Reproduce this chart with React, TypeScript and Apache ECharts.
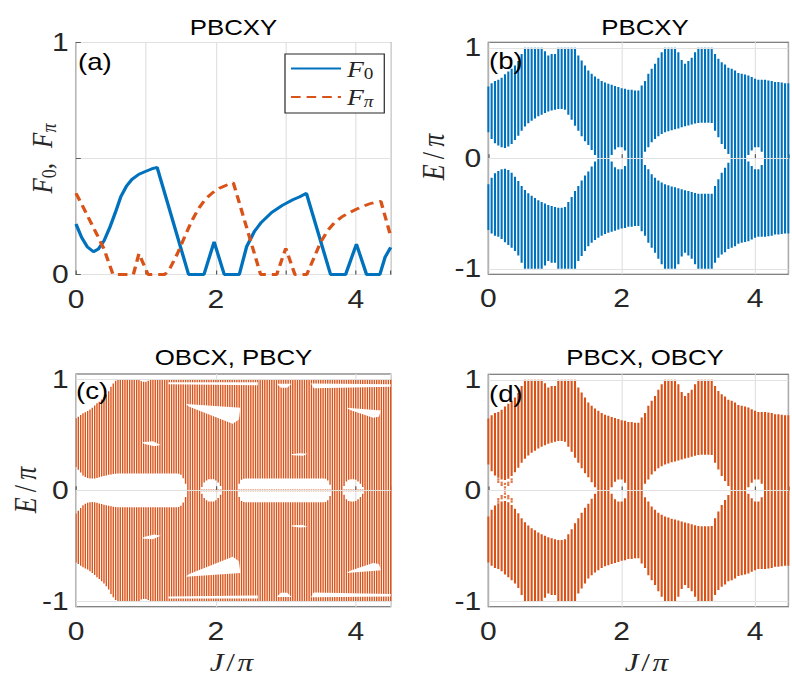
import React, { useEffect, useRef } from 'react';
import * as echarts from 'echarts';

// The reference figure is stretched horizontally; draw narrower and stretch back.
const SX = 1.2;
const W = 792 / SX;
const H = 675;

const BLUE = '#0072BD';
const ORANGE = '#D95319';

// ---------- Panel (a): F0 and Fpi versus J/pi ----------
const f0J = [0, 0.08, 0.16, 0.25, 0.32, 0.4, 0.48, 0.56, 0.64, 0.72, 0.8, 0.9, 1.0, 1.08, 1.16, 1.61, 1.83, 1.975, 2.12, 2.335, 2.44, 2.55, 2.65, 2.8, 2.95, 3.1, 3.2, 3.295, 3.64, 3.855, 4.01, 4.155, 4.345, 4.42, 4.5];
const f0V = [0.218, 0.16, 0.12, 0.098, 0.11, 0.145, 0.2, 0.265, 0.335, 0.38, 0.41, 0.432, 0.445, 0.455, 0.462, 0, 0, 0.141, 0, 0, 0.12, 0.185, 0.225, 0.268, 0.298, 0.322, 0.335, 0.35, 0, 0, 0.131, 0, 0, 0.075, 0.117];
const fpJ = [0, 0.1, 0.2, 0.3, 0.4, 0.47, 0.53, 0.82, 0.9, 1.03, 1.27, 1.35, 1.45, 1.55, 1.65, 1.75, 1.85, 1.95, 2.05, 2.15, 2.25, 2.64, 2.87, 3.0, 3.13, 3.3, 3.4, 3.5, 3.6, 3.7, 3.8, 3.9, 4.0, 4.1, 4.2, 4.3, 4.36, 4.5];
const fpV = [0.35, 0.292, 0.232, 0.172, 0.11, 0.05, 0, 0, 0.09, 0, 0, 0.03, 0.09, 0.16, 0.228, 0.283, 0.325, 0.352, 0.372, 0.385, 0.395, 0, 0, 0.113, 0, 0, 0.07, 0.14, 0.19, 0.225, 0.248, 0.265, 0.28, 0.293, 0.305, 0.312, 0.315, 0.165];

// ---------- Panels (b) and (d): band edges (upper band; lower band is its mirror) ----------
const bJ = [0, 0.05, 0.1, 0.15, 0.2, 0.25, 0.3, 0.35, 0.4, 0.45, 0.5, 0.55, 0.6, 0.65, 0.7, 0.75, 0.8, 0.85, 0.9, 0.95, 1, 1.05, 1.1, 1.15, 1.2, 1.25, 1.3, 1.35, 1.4, 1.45, 1.5, 1.55, 1.6, 1.65, 1.7, 1.75, 1.8, 1.85, 1.9, 1.95, 2, 2.05, 2.1, 2.15, 2.2, 2.25, 2.3, 2.35, 2.4, 2.45, 2.5, 2.55, 2.6, 2.65, 2.7, 2.75, 2.8, 2.85, 2.9, 2.95, 3, 3.05, 3.1, 3.15, 3.2, 3.25, 3.3, 3.35, 3.4, 3.45, 3.5, 3.55, 3.6, 3.65, 3.7, 3.75, 3.8, 3.85, 3.9, 3.95, 4, 4.05, 4.1, 4.15, 4.2, 4.25, 4.3, 4.35, 4.4, 4.45, 4.5];
const bOuter = [
  0.65, 0.68, 0.7, 0.71, 0.73, 0.76, 0.785, 0.81, 0.84, 0.88,
  0.945, 1, 1, 1, 1, 1, 1, 0.97, 0.93, 0.945,
  0.945, 1, 1, 1, 1, 1, 1, 0.93, 0.885, 0.84,
  0.795, 0.765, 0.74, 0.72, 0.7, 0.685, 0.675, 0.665, 0.655, 0.645,
  0.635, 0.63, 0.62, 0.62, 0.613, 0.613, 0.66, 0.7, 0.765, 0.81,
  0.855, 0.91, 0.96, 1, 1, 1, 1, 0.96, 0.89, 0.855,
  0.88, 0.91, 0.96, 1, 1, 1, 1, 1, 0.945, 0.9,
  0.87, 0.85, 0.82, 0.81, 0.795, 0.773, 0.765, 0.758, 0.75, 0.735,
  0.72, 0.71, 0.71, 0.71, 0.705, 0.7, 0.69, 0.69, 0.685, 0.68,
  0.68,
];
const bInner = [
  0.235, 0.175, 0.136, 0.115, 0.1, 0.094, 0.106, 0.13, 0.166, 0.205,
  0.25, 0.287, 0.317, 0.34, 0.36, 0.38, 0.395, 0.41, 0.423, 0.432,
  0.44, 0.447, 0.447, 0.44, 0.395, 0.35, 0.295, 0.25, 0.2, 0.155,
  0.12, 0.075, 0.03, 0, 0, 0, 0, 0.03, 0.08, 0.1,
  0.1, 0.07, 0, 0, 0, 0, 0, 0.06, 0.1, 0.145,
  0.175, 0.2, 0.22, 0.235, 0.245, 0.255, 0.262, 0.27, 0.28, 0.29,
  0.297, 0.305, 0.315, 0.32, 0.322, 0.322, 0.322, 0.32, 0.25, 0.19,
  0.13, 0.085, 0.04, 0, 0, 0, 0, 0, 0.03, 0.07,
  0.1, 0.1, 0.06, 0, 0, 0, 0, 0, 0, 0,
  0,
];
// (d): scattered edge states near J = 0.25
const dEdgeJ = [0.15, 0.15, 0.15, 0.15, 0.2, 0.2, 0.2, 0.2, 0.25, 0.25, 0.25, 0.25, 0.25, 0.3, 0.3, 0.3, 0.3, 0.35, 0.35, 0.35, 0.35];
const dEdgeE = [0.1, 0.078, -0.078, -0.1, 0.07, 0.05, -0.05, -0.07, 0.06, 0.028, 0, -0.028, -0.06, 0.07, 0.05, -0.05, -0.07, 0.1, 0.078, -0.078, -0.1];

// ---------- Panel (c) ----------
const cJ = [
  0, 0.033, 0.067, 0.1, 0.133, 0.167, 0.2, 0.233, 0.267, 0.3,
  0.333, 0.367, 0.4, 0.433, 0.467, 0.5, 0.533, 0.567, 0.6, 0.633,
  0.667, 0.7, 0.733, 0.767, 0.8, 0.833, 0.867, 0.9, 0.933, 0.967,
  1, 1.033, 1.067, 1.1, 1.133, 1.167, 1.2, 1.233, 1.267, 1.3,
  1.333, 1.367, 1.4, 1.433, 1.467, 1.5, 1.533, 1.567, 1.6, 1.633,
  1.667, 1.7, 1.733, 1.767, 1.8, 1.833, 1.867, 1.9, 1.933, 1.967,
  2, 2.033, 2.067, 2.1, 2.133, 2.167, 2.2, 2.233, 2.267, 2.3,
  2.333, 2.367, 2.4, 2.433, 2.467, 2.5, 2.533, 2.567, 2.6, 2.633,
  2.667, 2.7, 2.733, 2.767, 2.8, 2.833, 2.867, 2.9, 2.933, 2.967,
  3, 3.033, 3.067, 3.1, 3.133, 3.167, 3.2, 3.233, 3.267, 3.3,
  3.333, 3.367, 3.4, 3.433, 3.467, 3.5, 3.533, 3.567, 3.6, 3.633,
  3.667, 3.7, 3.733, 3.767, 3.8, 3.833, 3.867, 3.9, 3.933, 3.967,
  4, 4.033, 4.067, 4.1, 4.133, 4.167, 4.2, 4.233, 4.267, 4.3,
  4.333, 4.367, 4.4, 4.433, 4.467, 4.5,
];
const cOuter = [
  0.65, 0.665, 0.68, 0.695, 0.705, 0.715, 0.73, 0.745, 0.765, 0.785,
  0.8, 0.82, 0.84, 0.865, 0.895, 0.935, 0.965, 0.99, 1, 1,
  1, 1, 1, 1, 1, 1, 1, 1, 0.985, 0.98,
  0.98, 0.99, 1, 1, 1, 1, 1, 1, 1, 1,
  1, 1, 1, 1, 1, 1, 1, 1, 1, 1,
  1, 1, 1, 1, 1, 1, 1, 1, 1, 1,
  1, 1, 1, 1, 1, 1, 1, 1, 1, 1,
  1, 1, 1, 1, 1, 1, 1, 1, 1, 1,
  1, 1, 1, 1, 1, 1, 1, 1, 1, 1,
  1, 1, 1, 1, 1, 1, 1, 1, 1, 1,
  1, 1, 1, 1, 1, 1, 1, 1, 1, 1,
  1, 1, 1, 1, 1, 1, 1, 1, 1, 1,
  1, 1, 1, 1, 1, 1, 1, 1, 1, 1,
  1, 1, 1, 1, 1, 1,
];
const cInner = [
  0.21, 0.185, 0.16, 0.135, 0.12, 0.112, 0.108, 0.106, 0.108, 0.112,
  0.118, 0.124, 0.13, 0.135, 0.14, 0.144, 0.147, 0.15, 0.152, 0.152,
  0.152, 0.152, 0.152, 0.152, 0.152, 0.152, 0.152, 0.152, 0.152, 0.152,
  0.152, 0.152, 0.152, 0.152, 0.152, 0.152, 0.152, 0.152, 0.152, 0.152,
  0.152, 0.152, 0.152, 0.152, 0.15, 0.14, 0.11, 0.06, 0, 0,
  0, 0, 0, 0, 0.03, 0.07, 0.09, 0.1, 0.1, 0.1,
  0.09, 0.07, 0.04, 0, 0, 0, 0, 0, 0, 0,
  0.06, 0.095, 0.105, 0.108, 0.108, 0.108, 0.108, 0.108, 0.108, 0.108,
  0.108, 0.108, 0.108, 0.108, 0.108, 0.108, 0.108, 0.108, 0.108, 0.108,
  0.108, 0.108, 0.108, 0.108, 0.108, 0.108, 0.108, 0.108, 0.108, 0.108,
  0.108, 0.108, 0.108, 0.108, 0.108, 0.108, 0.108, 0.105, 0.09, 0.05,
  0, 0, 0, 0, 0, 0.04, 0.08, 0.095, 0.1, 0.1,
  0.095, 0.08, 0.06, 0.03, 0, 0, 0, 0, 0, 0,
  0, 0, 0, 0, 0, 0,
];
// J ranges where a zero-energy mode sits inside the gap
const cZeroRanges = [[1.8, 2.07], [2.33, 3.64], [3.83, 4.1]];
// white holes inside the upper band (J, E); the lower band has their mirror images
const cHoles = [
  [[1.32, 0.975], [2.6, 0.975], [2.6, 0.948], [1.32, 0.958]],
  [[2.87, 0.962], [3.08, 0.962], [3.02, 0.925], [2.93, 0.925]],
  [[3.36, 0.965], [4.5, 0.958], [4.5, 0.935], [3.4, 0.922]],
  [[1.57, 0.78], [2.35, 0.745], [2.33, 0.64], [2.24, 0.6], [1.62, 0.755]],
  [[3.87, 0.745], [4.36, 0.72], [4.33, 0.665], [4.25, 0.655], [3.92, 0.725]],
  [[0.95, 0.435], [1.1, 0.442], [1.21, 0.41], [1.12, 0.398], [0.97, 0.42]],
  [[3.07, 0.325], [3.2, 0.335], [3.31, 0.33], [3.25, 0.312], [3.1, 0.316]],
];

// ---------- tick values ----------
const jTicksA = [0, 2, 4];
const fTicks = [0, 1];
const eTicks = [-1, 0, 1];
const eGrid = [-1, 0, 1];

// ---------- styling helpers ----------
const SANS = 'Liberation Sans, Arial, Helvetica, sans-serif';
const SERIF = 'Liberation Serif, Times New Roman, serif';
const TICK_FS = 25;
const BOX = '#5a5a5a';
const GRIDC = '#e2e2e2';
const HAIR = '\u200A';
const THIN = '\u2009';

function bandItems(J: number[], outer: number[], inner: number[]) {
  const out: number[][] = [];
  for (let i = 0; i < J.length; i++) {
    if (inner[i] > 0) {
      out.push([J[i], inner[i], outer[i]]);
      out.push([J[i], -outer[i], -inner[i]]);
    } else {
      out.push([J[i], -outer[i], outer[i]]);
    }
  }
  return out;
}

function barRender(color: string, w: number, minH: number) {
  return (params: any, api: any) => {
    const x = api.value(0);
    const lo = api.value(1);
    const hi = api.value(2);
    const a = api.coord([x, hi]);
    const b = api.coord([x, lo]);
    const h = Math.max(b[1] - a[1], minH);
    return {
      type: 'rect',
      shape: { x: a[0] - w / 2, y: (a[1] + b[1]) / 2 - h / 2, width: w, height: h },
      style: { fill: color },
    };
  };
}

function xAxisCfg(gridIndex: number, interval: number, labels: number[]) {
  return {
    type: 'value', gridIndex, min: 0, max: 4.5, interval,
    axisLine: { show: false },
    axisTick: { show: true, inside: true, length: 4, lineStyle: { color: BOX } },
    axisLabel: {
      fontFamily: SANS, fontSize: TICK_FS, color: '#262626', margin: 12,
      formatter: (v: number) => (labels.indexOf(v) >= 0 ? String(v) : ''),
    },
    splitLine: { show: true, lineStyle: { color: GRIDC, width: 1 } },
  };
}

function eAxisCfg(gridIndex: number) {
  return {
    type: 'value', gridIndex, min: -1.05, max: 1.05,
    axisLine: { show: false },
    axisTick: { show: true, inside: true, length: 4, lineStyle: { color: BOX }, customValues: eTicks },
    axisLabel: {
      fontFamily: SANS, fontSize: TICK_FS, color: '#262626', margin: 6, customValues: eTicks,
      formatter: (v: number) => String(v),
    },
    splitLine: { show: false },
  };
}

function gridLines(xi: number) {
  return {
    type: 'line', xAxisIndex: xi, yAxisIndex: xi, data: [], z: 1, silent: true,
    markLine: {
      silent: true, symbol: 'none', label: { show: false }, animation: false,
      lineStyle: { color: GRIDC, type: 'solid', width: 1 },
      data: eGrid.map((v) => ({ yAxis: v })),
    },
  };
}

function mathRich(fs: number) {
  const sub = Math.round(fs * 0.7);
  return {
    i: { fontFamily: SERIF, fontStyle: 'italic', fontSize: fs, lineHeight: fs + 3, fill: '#262626', color: '#262626' },
    n: { fontFamily: SERIF, fontSize: fs, lineHeight: fs + 3, fill: '#262626', color: '#262626' },
    s: { fontFamily: SERIF, fontSize: sub, lineHeight: sub - 1, verticalAlign: 'bottom', fill: '#262626', color: '#262626' },
    si: { fontFamily: SERIF, fontStyle: 'italic', fontSize: sub, lineHeight: sub - 1, verticalAlign: 'bottom', fill: '#262626', color: '#262626' },
  };
}

function label(x: number, y: number, text: string, size: number, align = 'center', rich = false, rot = 0) {
  return {
    type: 'text', x: x / SX, y, rotation: rot, z: 100,
    style: rich
      ? { text, rich: mathRich(size), textAlign: align, textVerticalAlign: 'middle', fill: '#262626' }
      : { text, fontFamily: SANS, fontSize: size, fill: '#000', textAlign: align, textVerticalAlign: 'middle' },
  };
}

function buildOption() {
  const grids = [
    { left: 76 / SX, top: 42.5, width: 314.7 / SX, height: 232 },
    { left: 488.3 / SX, top: 42.3, width: 314 / SX, height: 232 },
    { left: 76 / SX, top: 374, width: 314.7 / SX, height: 232.7 },
    { left: 488.3 / SX, top: 374.3, width: 314 / SX, height: 232.4 },
  ].map((g) => ({ ...g, show: true, borderColor: BOX, borderWidth: 1, backgroundColor: 'transparent', containLabel: false }));

  const holesAll = cHoles.concat(cHoles.map((poly) => poly.map(([j, e]) => [j, -e])));
  const zeroItems: number[][] = [];
  cJ.forEach((j, i) => {
    if (cInner[i] > 0 && cZeroRanges.some(([a, b]) => j >= a && j <= b)) zeroItems.push([j, -0.006, 0.006]);
  });

  const eLabel = `{i|E}{n|${THIN}/${THIN}}{i|π}`;
  const jLabel = `{i|J}{n|${HAIR}/${HAIR}}{i|π}`;

  return {
    animation: false,
    backgroundColor: '#fff',
    grid: grids,
    xAxis: [xAxisCfg(0, 1, jTicksA), xAxisCfg(1, 2, jTicksA), xAxisCfg(2, 2, jTicksA), xAxisCfg(3, 2, jTicksA)],
    yAxis: [
      {
        type: 'value', gridIndex: 0, min: 0, max: 1, interval: 0.5,
        axisLine: { show: false },
        axisTick: { show: true, inside: true, length: 4, lineStyle: { color: BOX } },
        axisLabel: {
          fontFamily: SANS, fontSize: TICK_FS, color: '#262626', margin: 6,
          formatter: (v: number) => (fTicks.indexOf(v) >= 0 ? String(v) : ''),
        },
        splitLine: { show: true, lineStyle: { color: GRIDC, width: 1 } },
      },
      eAxisCfg(1), eAxisCfg(2), eAxisCfg(3),
    ],
    legend: {
      data: ['F0', 'Fπ'], orient: 'vertical', left: 285 / SX, top: 54,
      itemWidth: 50 / SX, itemHeight: 14, itemGap: 4,
      padding: [3, 9, 3, 4], backgroundColor: '#fff', borderColor: '#262626', borderWidth: 1, borderRadius: 0,
      itemStyle: { opacity: 0, borderWidth: 0 },
      formatter: (n: string) => (n === 'F0' ? '{i|F}{s|0}' : '{i|F}{si|π}'),
      textStyle: { rich: mathRich(23) },
    },
    graphic: [
      label(233.5, 28, 'PBCXY', 21.5),
      label(645, 28, 'PBCXY', 21.5),
      label(233.5, 358, 'OBCX, PBCY', 21.5),
      label(645, 358, 'PBCX, OBCY', 21.5),
      label(78, 62, '(a)', 23, 'left'),
      label(489, 61, '(b)', 23, 'left'),
      label(76, 391, '(c)', 23, 'left'),
      label(489, 394, '(d)', 23, 'left'),
      label(42, 158.5, `{i|F}{s|0}{n|,${THIN}${THIN}${THIN}}{i|F}{si|π}`, 25, 'center', true, Math.PI / 2),
      label(433, 157, eLabel, 26, 'center', true, Math.PI / 2),
      label(25, 490, eLabel, 26, 'center', true, Math.PI / 2),
      label(231.5, 662, jLabel, 26, 'center', true),
      label(646.5, 662, jLabel, 26, 'center', true),
    ],
    series: [
      {
        name: 'F0', type: 'line', xAxisIndex: 0, yAxisIndex: 0, symbol: 'none', showSymbol: false, z: 3,
        data: f0J.map((j, i) => [j, f0V[i]]),
        lineStyle: { color: BLUE, width: 2.8 }, itemStyle: { color: BLUE },
      },
      {
        name: 'Fπ', type: 'line', xAxisIndex: 0, yAxisIndex: 0, symbol: 'none', showSymbol: false, z: 4,
        data: fpJ.map((j, i) => [j, fpV[i]]),
        lineStyle: { color: ORANGE, width: 2.8, type: [8, 5] }, itemStyle: { color: ORANGE },
      },
      gridLines(1), gridLines(2), gridLines(3),
      {
        type: 'custom', xAxisIndex: 1, yAxisIndex: 1, z: 2, clip: true, silent: true,
        data: bandItems(bJ, bOuter, bInner), encode: { x: 0, y: [1, 2] },
        renderItem: barRender(BLUE, 2.1 / SX, 1),
      },
      {
        type: 'custom', xAxisIndex: 2, yAxisIndex: 2, z: 2, clip: true, silent: true,
        data: bandItems(cJ, cOuter, cInner), encode: { x: 0, y: [1, 2] },
        renderItem: barRender(ORANGE, 1.4 / SX, 1),
      },
      {
        type: 'custom', xAxisIndex: 2, yAxisIndex: 2, z: 3, clip: true, silent: true,
        data: holesAll.map((p) => p[0]), encode: { x: 0, y: 1 },
        renderItem: (params: any, api: any) => ({
          type: 'polygon',
          shape: { points: holesAll[params.dataIndex].map((p) => api.coord(p)) },
          style: { fill: '#fff' },
        }),
      },
      {
        type: 'custom', xAxisIndex: 2, yAxisIndex: 2, z: 4, clip: true, silent: true,
        data: zeroItems, encode: { x: 0, y: [1, 2] },
        renderItem: barRender(ORANGE, 1.4 / SX, 1.6),
      },
      {
        type: 'custom', xAxisIndex: 3, yAxisIndex: 3, z: 2, clip: true, silent: true,
        data: bandItems(bJ, bOuter, bInner), encode: { x: 0, y: [1, 2] },
        renderItem: barRender(ORANGE, 2.1 / SX, 1),
      },
      {
        type: 'scatter', xAxisIndex: 3, yAxisIndex: 3, z: 3, silent: true,
        symbol: 'rect', symbolSize: [1.8, 2.2],
        data: dEdgeJ.map((j, i) => [j, dEdgeE[i]]),
        itemStyle: { color: ORANGE },
      },
    ],
  };
}

export default function App() {
  const ref = useRef<HTMLDivElement>(null);
  useEffect(() => {
    if (!ref.current) return;
    const chart = echarts.init(ref.current, null, { renderer: 'svg', width: W, height: H });
    chart.setOption(buildOption() as any);
    return () => chart.dispose();
  }, []);
  return (
    <div style={{ position: 'fixed', left: 0, top: 0, width: 792, height: 675, overflow: 'hidden', background: '#fff' }}>
      <div ref={ref} style={{ width: W, height: H, transform: `scaleX(${SX})`, transformOrigin: '0 0' }} />
    </div>
  );
}
